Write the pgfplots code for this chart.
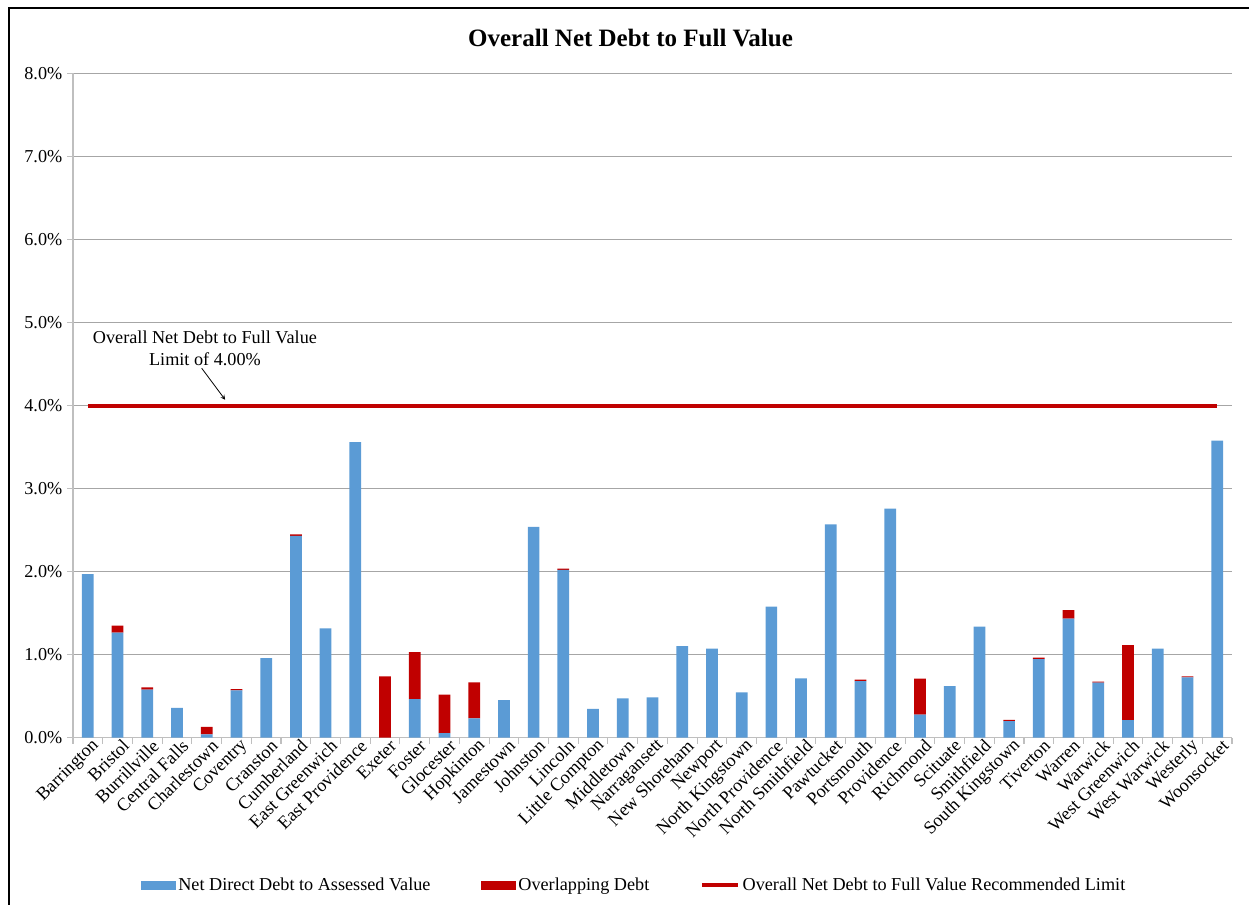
\documentclass[border=0pt]{standalone}
\usepackage{pgfplots}
\pgfplotsset{compat=1.18}
\usepackage{fontspec}
\setmainfont{Liberation Serif}

\definecolor{barblue}{HTML}{5B9BD5}
\definecolor{limitred}{HTML}{C00000}
\definecolor{gridgray}{HTML}{A6A6A6}
\definecolor{axisgray}{HTML}{BFBFBF}
\newcommand{\lbl}{\fontsize{13.65}{16}\selectfont}

\pgfplotsset{
  frameaxis/.style={
    scale only axis,
    width=869.25pt, height=498.3pt,
    at={(54.75pt,124.7pt)}, anchor=south west,
    xmin=-0.5, xmax=38.5, ymin=0, ymax=8,
  }
}

\begin{document}
\begin{tikzpicture}
\useasboundingbox (0,0) rectangle (936.75pt,678pt);
% outer chart frame
\draw[line width=1.5pt] (6.4pt,-5pt) -- (6.4pt,672pt) -- (945pt,672pt);
% title
\node[font=\fontsize{18.75}{22}\selectfont\bfseries] at (472.9pt,649.5pt) {Overall Net Debt to Full Value};

\begin{axis}[frameaxis,
  ybar stacked, bar width=8.8pt,
  axis x line*=bottom, axis y line*=left,
  axis line style={draw=axisgray, line width=0.8pt, -},
  ymajorgrids, grid style={draw=gridgray, line width=0.8pt},
  ytick={0,1,...,8},
  yticklabel={\pgfmathprintnumber[fixed,fixed zerofill,precision=1]{\tick}\%},
  /pgf/number format/assume math mode=true,
  xtick={0,...,38},
  minor xtick={-0.5,0.5,...,38.5},
  major x tick style={draw=none},
  tick align=outside,
  major tick length=4.5pt, minor tick length=4.5pt,
  tick style={draw=axisgray, line width=0.8pt},
  xticklabels={Barrington,Bristol,Burrillville,Central Falls,Charlestown,Coventry,Cranston,Cumberland,East Greenwich,East Providence,Exeter,Foster,Glocester,Hopkinton,Jamestown,Johnston,Lincoln,Little Compton,Middletown,Narragansett,New Shoreham,Newport,North Kingstown,North Providence,North Smithfield,Pawtucket,Portsmouth,Providence,Richmond,Scituate,Smithfield,South Kingstown,Tiverton,Warren,Warwick,West Greenwich,West Warwick,Westerly,Woonsocket},
  xticklabel style={font=\lbl, rotate=45, anchor=east, inner sep=1pt, xshift=6pt, yshift=-4pt},
  yticklabel style={font=\lbl},
]
% Net direct debt to assessed value (%)
\addplot[fill=barblue, draw=none] coordinates {
(0,1.970) (1,1.265) (2,0.580) (3,0.360) (4,0.040) (5,0.570) (6,0.960) (7,2.430)
(8,1.317) (9,3.558) (10,0.000) (11,0.466) (12,0.056) (13,0.233) (14,0.454) (15,2.538)
(16,2.020) (17,0.349) (18,0.474) (19,0.486) (20,1.104) (21,1.072) (22,0.546) (23,1.578)
(24,0.715) (25,2.570) (26,0.683) (27,2.759) (28,0.277) (29,0.622) (30,1.337) (31,0.200)
(32,0.948) (33,1.434) (34,0.663) (35,0.213) (36,1.072) (37,0.727) (38,3.578)
};
% Overlapping debt (%)
\addplot[fill=limitred, draw=none] coordinates {
(0,0.000) (1,0.085) (2,0.025) (3,0.000) (4,0.090) (5,0.015) (6,0.000) (7,0.020)
(8,0.000) (9,0.000) (10,0.739) (11,0.566) (12,0.462) (13,0.434) (14,0.000) (15,0.000)
(16,0.016) (17,0.000) (18,0.000) (19,0.000) (20,0.000) (21,0.000) (22,0.000) (23,0.000)
(24,0.000) (25,0.000) (26,0.016) (27,0.000) (28,0.434) (29,0.000) (30,0.000) (31,0.016)
(32,0.016) (33,0.104) (34,0.012) (35,0.903) (36,0.000) (37,0.012) (38,0.000)
};
\end{axis}

\begin{axis}[frameaxis, hide axis,
  legend columns=3,
  legend style={draw=none, fill=none, font=\lbl,
    at={(0.4845,-0.2217)}, anchor=center,
    /tikz/every even column/.append style={column sep=36pt},
    nodes={inner sep=2pt}},
]
\addlegendimage{legend image code/.code={\fill[barblue] (0pt,-3pt) rectangle (25.5pt,3pt);}}
\addlegendentry{Net Direct Debt to Assessed Value}
\addlegendimage{legend image code/.code={\fill[limitred] (0pt,-3pt) rectangle (25.5pt,3pt);}}
\addlegendentry{Overlapping Debt}
% recommended limit of 4.00%
\addplot[limitred, line width=3pt, mark=none,
  legend image code/.code={\draw[limitred, line width=3pt] (0pt,0pt) -- (27pt,0pt);}]
  coordinates {(0,4) (38,4)};
\addlegendentry{Overall Net Debt to Full Value Recommended Limit}
\node[font=\lbl, align=center] at (axis cs:3.94,4.69)
  {Overall Net Debt to Full Value\\Limit of 4.00\%};
\draw[->, >=stealth, line width=0.6pt] (axis cs:3.83,4.45) -- (axis cs:4.62,4.07);
\end{axis}
\end{tikzpicture}
\end{document}
